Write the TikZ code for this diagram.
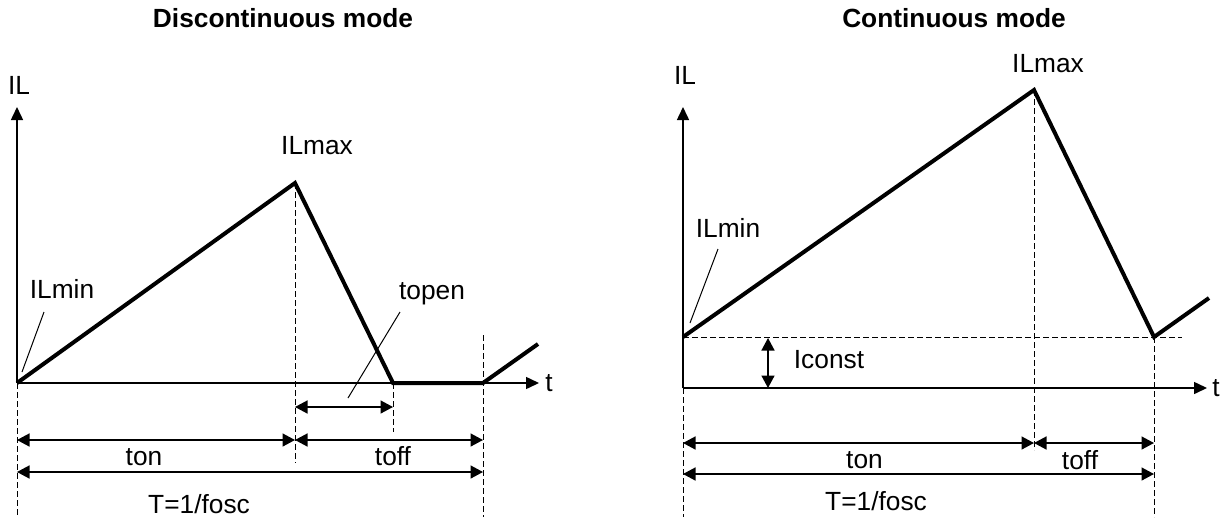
\documentclass[tikz,border=0pt]{standalone}
\usepackage{fontspec}
\setmainfont{Liberation Sans}
\usetikzlibrary{arrows.meta}
\tikzset{
  lbl/.style={inner sep=0pt, anchor=base, font=\fontsize{26.3}{30}\selectfont},
  ttl/.style={inner sep=0pt, anchor=base, font=\fontsize{26.3}{30}\selectfont\bfseries},
  axisline/.style={line width=1.5pt, -{Triangle[length=13pt,width=12pt]}},
  dimline/.style={line width=1.5pt, {Triangle[length=12.5pt,width=13pt]}-{Triangle[length=12.5pt,width=13pt]}},
  wave/.style={line width=4pt, line join=miter},
  guide/.style={line width=1pt, dash pattern=on 6pt off 3pt},
  leader/.style={line width=1pt},
}
\begin{document}
\begin{tikzpicture}[x=1pt,y=-1pt]
\useasboundingbox (0,0) rectangle (1225,517);
% ================= Left: discontinuous =================
\node[ttl] (ttlA) at (283,27) {Discontinuous mode};
\coordinate (oA) at (17,383);
\coordinate (ytA) at (17,107);
\coordinate (xtA) at (539,383);
\coordinate (pkA) at (295,183);
\coordinate (btA) at (393,383);
\coordinate (flA) at (483,383);
\coordinate (enA) at (538,344);
\draw[axisline] (oA) -- (ytA);
\draw[axisline] (oA) -- (xtA);
\node[lbl] (ILA) at (19,94.5) {IL};
\node[lbl] (tA) at (549,391.5) {t};
% guides
\coordinate (g1A) at (17,517);
\coordinate (g2A) at (295,463);
\coordinate (g3A) at (393,432);
\coordinate (g4At) at (483,335);
\coordinate (g4Ab) at (483,517);
\draw[guide] (oA) -- (g1A);
\draw[guide] (pkA) -- (g2A);
\draw[guide] (btA) -- (g3A);
\draw[guide] (g4At) -- (g4Ab);
% waveform
\draw[wave] (oA) -- (pkA) -- (btA) -- (flA) -- (enA);
% dimension arrows
\coordinate (opA1) at (295,407);
\coordinate (opA2) at (393,407);
\draw[dimline] (opA1) -- (opA2);
\coordinate (onA1) at (17,440);
\coordinate (onA2) at (295,440);
\coordinate (ofA2) at (483,440);
\draw[dimline] (onA1) -- (onA2);
\draw[dimline] (onA2) -- (ofA2);
\coordinate (TA1) at (17,472);
\coordinate (TA2) at (483,472);
\draw[dimline] (TA1) -- (TA2);
% labels
\node[lbl] (maxA) at (317,154.5) {ILmax};
\node[lbl] (minA) at (62,298.5) {ILmin};
\coordinate (minAl1) at (44,312);
\coordinate (minAl2) at (22,372);
\draw[leader] (minAl1) -- (minAl2);
\node[lbl] (openA) at (432,299) {topen};
\coordinate (openAl1) at (400,312);
\coordinate (openAl2) at (348,398);
\draw[leader] (openAl1) -- (openAl2);
\node[lbl] (tonA) at (144,465.5) {ton};
\node[lbl] (toffA) at (393,465.5) {toff};
\node[lbl] (TA) at (199,513) {T=1/fosc};
% ================= Right: continuous =================
\node[ttl] (ttlB) at (954,27) {Continuous mode};
\coordinate (oB) at (683,388);
\coordinate (ytB) at (683,107);
\coordinate (xtB) at (1207,388);
\coordinate (stB) at (683,337);
\coordinate (pkB) at (1034,90);
\coordinate (btB) at (1154,337);
\coordinate (enB) at (1209,298);
\draw[axisline] (oB) -- (ytB);
\draw[axisline] (oB) -- (xtB);
\node[lbl] (ILB) at (685,84.5) {IL};
\node[lbl] (tB) at (1216,396.5) {t};
% guides
\coordinate (hB) at (1182,337);
\draw[guide] (stB) -- (hB);
\coordinate (g1B) at (683,517);
\coordinate (g2B) at (1034,450);
\coordinate (g3B) at (1154,517);
\draw[guide] (oB) -- (g1B);
\draw[guide] (pkB) -- (g2B);
\draw[guide] (btB) -- (g3B);
% waveform
\draw[wave] (stB) -- (pkB) -- (btB) -- (enB);
% Iconst
\coordinate (icB1) at (768,338);
\coordinate (icB2) at (768,388);
\draw[dimline] (icB1) -- (icB2);
\node[lbl] (icB) at (829,368) {Iconst};
% dimension arrows
\coordinate (onB1) at (683,443);
\coordinate (onB2) at (1034,443);
\coordinate (ofB2) at (1154,443);
\draw[dimline] (onB1) -- (onB2);
\draw[dimline] (onB2) -- (ofB2);
\coordinate (TB1) at (683,474);
\coordinate (TB2) at (1154,474);
\draw[dimline] (TB1) -- (TB2);
% labels
\node[lbl] (maxB) at (1048,72) {ILmax};
\node[lbl] (minB) at (728,237) {ILmin};
\coordinate (minBl1) at (718,249);
\coordinate (minBl2) at (690,323);
\draw[leader] (minBl1) -- (minBl2);
\node[lbl] (tonB) at (864.5,468) {ton};
\node[lbl] (toffB) at (1080,469) {toff};
\node[lbl] (TB) at (876,510) {T=1/fosc};
\end{tikzpicture}
\end{document}
